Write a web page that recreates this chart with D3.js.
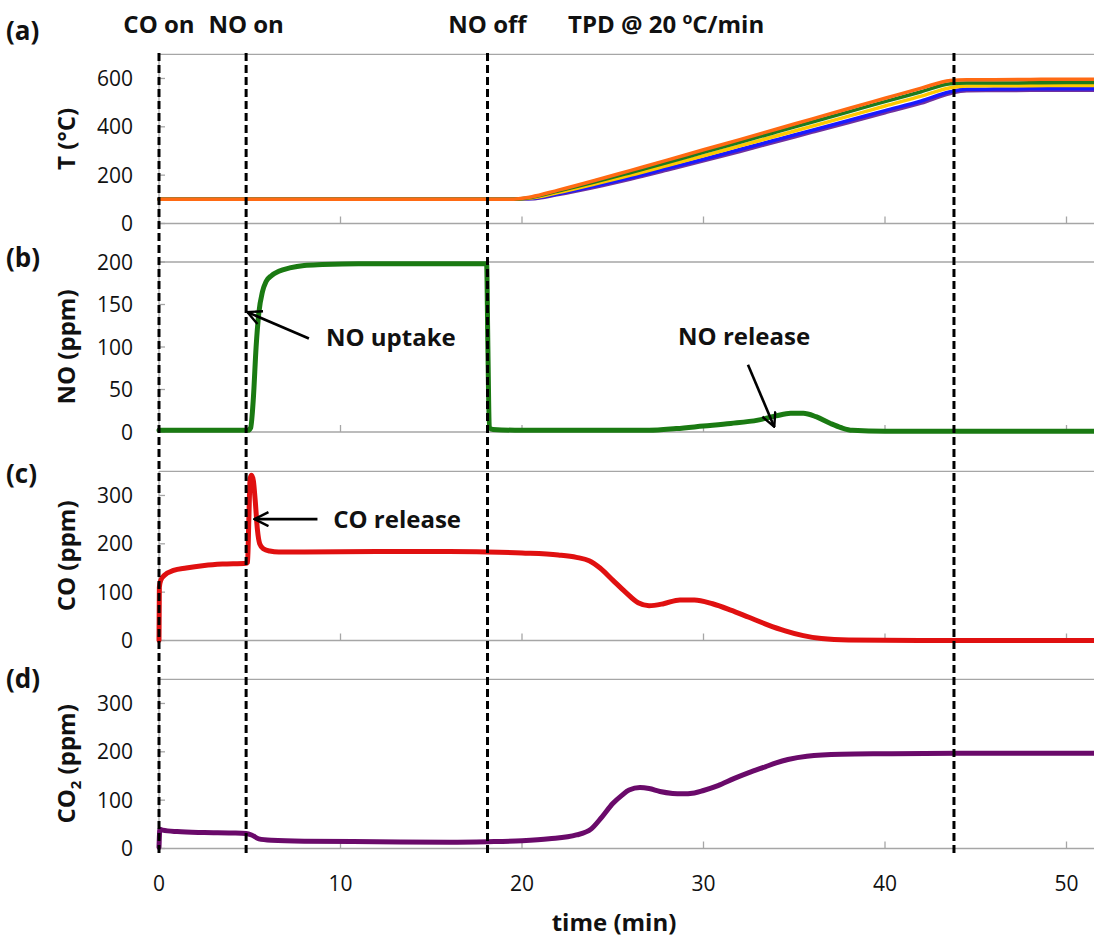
<!DOCTYPE html>
<html>
<head>
<meta charset="utf-8">
<script src="https://cdn.jsdelivr.net/npm/d3@7"></script>
<style>
  body { margin: 0; background: #fff; }
  svg { display: block; }
  text { font-family: "Open Sans", "Noto Sans", sans-serif; fill: #111; }
</style>
</head>
<body>
<svg id="chart" width="1094" height="940"></svg>
<script>
// ---- Temperature traces (five thermocouples), °C vs time (min)
const tempTime   = [0, 19.3, 20.5, 22, 24, 26, 28, 30, 32, 34, 36, 38, 40, 42, 43.6, 44.5, 46, 48, 50, 52];
const tempPurple = [100, 100, 102, 120, 150, 184, 221, 259, 298, 338, 378, 418, 458, 498, 538, 549, 550, 551, 551, 552];
const tempBlue   = [100, 100, 103, 123, 155, 190, 228, 266, 306, 346, 386, 426, 467, 507, 545, 555, 556, 557, 557, 558];
const tempYellow = [100, 100, 105, 128, 163, 200, 240, 280, 321, 362, 403, 444, 486, 527, 562, 569, 570, 570, 571, 571];
const tempGreen  = [100, 100, 108, 134, 171, 211, 252, 294, 336, 378, 420, 462, 504, 545, 578, 581, 581, 582, 583, 583];
const tempOrange = [100, 100, 110, 138, 178, 220, 262, 305, 347, 390, 433, 476, 518, 560, 592, 595, 595, 596, 597, 597];

// ---- NO concentration (ppm)
const noTime = [0, 4.9, 5.05, 5.2, 5.35, 5.5, 5.7, 5.9, 6.2, 6.6, 7.2, 8, 9, 11, 14, 18.05, 18.12, 18.2, 18.4, 20, 24, 27, 28.5, 30, 31.5, 33, 34, 34.8, 35.5, 36.2, 37, 37.6, 38.2, 40, 45, 52];
const noPpm  = [2, 2, 5, 40, 100, 140, 165, 177, 184, 189, 193, 196, 197, 198, 198, 198, 100, 5, 3, 2, 2, 2, 4, 7, 10, 14, 19, 22, 22, 18, 10, 5, 2, 1, 1, 1];

// ---- CO concentration (ppm)
const coTime = [0, 0.02, 0.1, 0.3, 0.8, 1.5, 2.5, 3.5, 4.8, 4.88, 4.95, 5.02, 5.1, 5.2, 5.3, 5.42, 5.55, 5.75, 6.1, 6.6, 8, 12, 16, 18.1, 20, 22, 23, 23.7, 24.3, 25, 25.7, 26.4, 27, 27.8, 28.7, 29.5, 30.5, 31.5, 32.5, 33.5, 34.5, 35.5, 36.5, 38, 42, 52];
const coPpm  = [0, 110, 125, 135, 145, 150, 155, 158, 160, 162, 250, 335, 342, 330, 290, 230, 200, 190, 185, 183, 183, 184, 184, 183, 181, 177, 172, 165, 150, 125, 100, 78, 72, 76, 84, 84, 76, 63, 48, 33, 20, 10, 4, 1, 0, 0];

// ---- CO2 concentration (ppm)
const co2Time = [0, 0.05, 0.2, 1, 2.5, 4, 4.8, 5.1, 5.5, 6.2, 8, 12, 16, 18.1, 20, 21.5, 23, 23.8, 24.4, 25, 25.5, 25.9, 26.5, 27, 27.6, 28.3, 28.8, 29.5, 30, 30.8, 31.7, 32.5, 33.4, 34, 34.65, 35.7, 37.6, 40, 44, 48, 52];
const co2Ppm  = [2, 40, 38, 35, 33, 32, 31, 28, 20, 17, 15, 14, 13, 14, 16, 20, 28, 40, 65, 93, 110, 121, 126, 124, 118, 114, 113, 115, 120, 130, 145, 157, 169, 177, 184, 191, 195, 196, 197, 197, 197];

// ---- Axis ticks and event markers
const timeTicks = [0, 10, 20, 30, 40, 50];
const tempTicks = [0, 200, 400, 600];
const noTicks   = [0, 50, 100, 150, 200];
const coTicks   = [0, 100, 200, 300];
const co2Ticks  = [0, 100, 200, 300];
const eventTimes  = [0, 4.8, 18.1, 43.8];
const eventLabels = ["CO on", "NO on", "NO off"];

const svg = d3.select("#chart");
const W = 1094;
const gridColor = "#a6a6a6";

const x = d3.scaleLinear().domain([0, 50]).range([159, 1066.5]);

const panels = [
  { id: "a", max: 700, range: [223.5, 54.3],  ticks: tempTicks, title: ["T (°C)"],              letterY: 40 },
  { id: "b", max: 200, range: [432, 262],     ticks: noTicks,   title: ["NO (ppm)"],            letterY: 267 },
  { id: "c", max: 350, range: [640.5, 471.3], ticks: coTicks,   title: ["CO (ppm)"],            letterY: 483 },
  { id: "d", max: 350, range: [848.5, 679.3], ticks: co2Ticks,  title: ["CO", "2", " (ppm)"],   letterY: 688 }
];
panels.forEach(p => { p.y = d3.scaleLinear().domain([0, p.max]).range(p.range); });

// Panel frames: top gridline, baseline axis, ticks and labels
panels.forEach(p => {
  const g = svg.append("g").attr("class", "panel-" + p.id);
  const y0 = p.y(0), yTop = p.y(p.max);

  g.append("line").attr("x1", x(0)).attr("x2", W).attr("y1", yTop).attr("y2", yTop)
    .attr("stroke", gridColor).attr("stroke-width", 1.3);
  g.append("line").attr("x1", x(0)).attr("x2", W).attr("y1", y0).attr("y2", y0)
    .attr("stroke", gridColor).attr("stroke-width", 1.3);
  g.append("line").attr("x1", x(0)).attr("x2", x(0)).attr("y1", y0).attr("y2", yTop)
    .attr("stroke", gridColor).attr("stroke-width", 1.3);

  // x tick marks pointing up from the baseline
  g.selectAll(".xt").data(timeTicks.filter(t => t > 0)).enter().append("line")
    .attr("x1", d => x(d)).attr("x2", d => x(d))
    .attr("y1", y0).attr("y2", y0 - 7)
    .attr("stroke", gridColor).attr("stroke-width", 1.3);

  // y tick marks pointing into the plot
  g.selectAll(".yt").data(p.ticks).enter().append("line")
    .attr("x1", x(0)).attr("x2", x(0) + 6)
    .attr("y1", d => p.y(d)).attr("y2", d => p.y(d))
    .attr("stroke", gridColor).attr("stroke-width", 1.3);

  g.selectAll(".yl").data(p.ticks).enter().append("text")
    .attr("x", 133).attr("y", d => p.y(d)).attr("dy", "0.36em")
    .attr("text-anchor", "end").attr("font-size", 21).text(d => d);

  // rotated axis title
  const cy = (y0 + yTop) / 2;
  const t = g.append("text")
    .attr("transform", `translate(75,${cy}) rotate(-90)`)
    .attr("text-anchor", "middle").attr("font-size", 24).attr("font-weight", "bold");
  if (p.title.length === 1) {
    t.text(p.title[0]);
  } else {
    t.append("tspan").text(p.title[0]);
    t.append("tspan").attr("font-size", 15).attr("dy", 6).text(p.title[1]);
    t.append("tspan").attr("dy", -6).text(p.title[2]);
  }

  // panel letter
  g.append("text").attr("x", 6).attr("y", p.letterY)
    .attr("font-size", 26).attr("font-weight", "bold").text("(" + p.id + ")");
});

// x tick labels and title under the bottom panel
svg.selectAll(".xl").data(timeTicks).enter().append("text")
  .attr("x", d => x(d)).attr("y", 891).attr("text-anchor", "middle")
  .attr("font-size", 21).text(d => d);
svg.append("text").attr("x", 614).attr("y", 931).attr("text-anchor", "middle")
  .attr("font-size", 24).attr("font-weight", "bold").text("time (min)");

// Line generators
const [pa, pb, pc, pd] = panels;
function series(ts, vs) { return ts.map((t, i) => [t, vs[i]]); }
function drawLine(panel, data, color, width, curve) {
  const line = d3.line().x(d => x(d[0])).y(d => panel.y(d[1])).curve(curve || d3.curveMonotoneX);
  svg.append("path").datum(data).attr("d", line)
    .attr("fill", "none").attr("stroke", color).attr("stroke-width", width)
    .attr("stroke-linejoin", "round").attr("stroke-linecap", "round");
}

// (a) temperatures, lowest first so the hottest trace sits on top
drawLine(pa, series(tempTime, tempPurple), "#7030a0", 3.5);
drawLine(pa, series(tempTime, tempBlue),   "#1a1aff", 3.5);
drawLine(pa, series(tempTime, tempYellow), "#ffc800", 3.5);
drawLine(pa, series(tempTime, tempGreen),  "#1e7b1e", 3.5);
drawLine(pa, series(tempTime, tempOrange), "#ff6a13", 3.5);

// (b)-(d) gas concentrations
drawLine(pb, series(noTime, noPpm),   "#1a7a12", 5);
drawLine(pc, series(coTime, coPpm),   "#e01010", 5);
drawLine(pd, series(co2Time, co2Ppm), "#6a0a6a", 5);

// Event markers: dashed verticals spanning all panels
svg.selectAll(".ev").data(eventTimes).enter().append("line")
  .attr("x1", d => x(d)).attr("x2", d => x(d))
  .attr("y1", 53).attr("y2", 855)
  .attr("stroke", "#000").attr("stroke-width", 3).attr("stroke-dasharray", "8,4");

svg.selectAll(".evl").data(eventLabels).enter().append("text")
  .attr("x", (d, i) => x(eventTimes[i])).attr("y", 33).attr("text-anchor", "middle")
  .attr("font-size", 24).attr("font-weight", "bold").text(d => d);

const tpd = svg.append("text").attr("x", 568).attr("y", 33)
  .attr("font-size", 24).attr("font-weight", "bold");
tpd.append("tspan").text("TPD @ 20 ");
tpd.append("tspan").attr("font-size", 16).attr("dy", -9).text("o");
tpd.append("tspan").attr("dy", 9).text("C/min");

// Annotations with open arrowheads
const defs = svg.append("defs");
defs.append("marker").attr("id", "openArrow")
  .attr("viewBox", "0 0 16 16").attr("refX", 15).attr("refY", 8)
  .attr("markerWidth", 16).attr("markerHeight", 16)
  .attr("markerUnits", "userSpaceOnUse").attr("orient", "auto")
  .append("path").attr("d", "M1,1 L15,8 L1,15")
  .attr("fill", "none").attr("stroke", "#000").attr("stroke-width", 2.4);

const notes = [
  { panel: pb, text: "NO uptake",  tx: 9.2,  ty: 111, from: [8.26, 110], to: [4.87, 141] },
  { panel: pb, text: "NO release", tx: 28.6, ty: 112, from: [32.45, 79], to: [33.9, 6] },
  { panel: pc, text: "CO release", tx: 9.6,  ty: 251, from: [8.73, 251], to: [5.26, 251] }
];
notes.forEach(n => {
  svg.append("line")
    .attr("x1", x(n.from[0])).attr("y1", n.panel.y(n.from[1]))
    .attr("x2", x(n.to[0])).attr("y2", n.panel.y(n.to[1]))
    .attr("stroke", "#000").attr("stroke-width", 2.6)
    .attr("marker-end", "url(#openArrow)");
  svg.append("text").attr("x", x(n.tx)).attr("y", n.panel.y(n.ty)).attr("dy", "0.36em")
    .attr("font-size", 24).attr("font-weight", "bold").text(n.text);
});
</script>
</body>
</html>
